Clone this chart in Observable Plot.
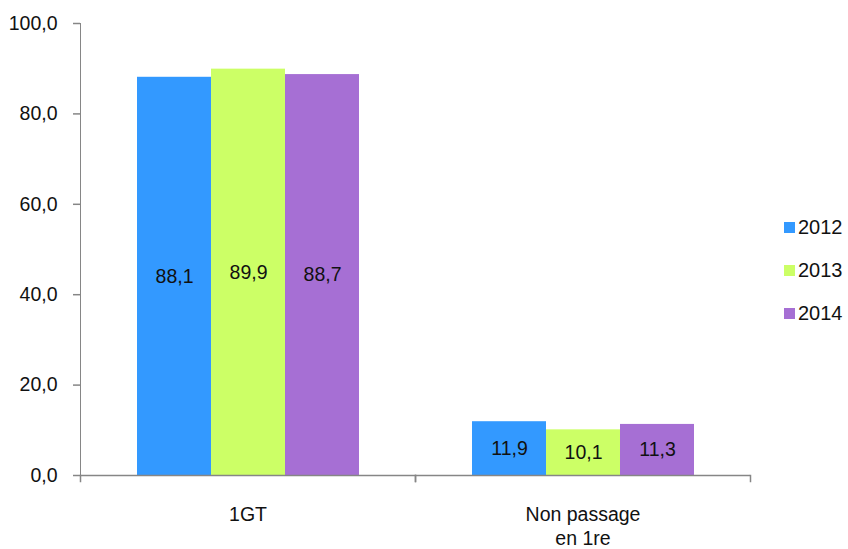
<!DOCTYPE html>
<html>
<head>
<meta charset="utf-8">
<script src="https://cdn.jsdelivr.net/npm/d3@7"></script>
<script src="https://cdn.jsdelivr.net/npm/@observablehq/plot@0.6"></script>
<style>
  html, body { margin: 0; padding: 0; background: #fff; }
  #wrap { position: relative; width: 848px; height: 549px; }
  #wrap svg text { font-family: "Liberation Sans Narrow", "Arial Narrow", "Liberation Sans", Arial, sans-serif; }
  #legend { position: absolute; left: 784px; top: 213px; font-family: "Liberation Sans Narrow", "Arial Narrow", "Liberation Sans", Arial, sans-serif; font-size: 20px; color: #111; }
  #legend .row { display: flex; align-items: center; height: 28px; margin-bottom: 15px; }
  #legend .sw { width: 11px; height: 11px; margin-right: 3px; }
</style>
</head>
<body>
<div id="wrap"></div>
<script>
const categories = ["1GT", "Non passage\nen 1re"];
const years = ["2012", "2013", "2014"];
const colors = ["#3399FF", "#CCFF66", "#A66FD4"];
const values1GT = [88.1, 89.9, 88.7];
const valuesNonPassage = [11.9, 10.1, 11.3];
const yTicks = [0, 20, 40, 60, 80, 100];

const fmt = d => d.toFixed(1).replace(".", ",");

const data = [];
years.forEach((yr, i) => {
  data.push({cat: categories[0], year: yr, value: values1GT[i]});
  data.push({cat: categories[1], year: yr, value: valuesNonPassage[i]});
});

const axisColor = "#868686";
const fs = 19.5;

const chart = Plot.plot({
  width: 848,
  height: 549,
  marginLeft: 80,
  marginRight: 98,
  marginTop: 23,
  marginBottom: 74,
  style: {fontSize: fs + "px", color: "#111", background: "#fff"},
  fx: {domain: categories, padding: 0, axis: null, label: null},
  x: {domain: years, paddingInner: 0, paddingOuter: 0.75, axis: null},
  y: {domain: [0, 100], ticks: yTicks, tickFormat: fmt, tickSize: 7, tickPadding: 16, label: null, line: true},
  color: {domain: years, range: colors},
  marks: [
    Plot.barY(data, {fx: "cat", x: "year", y: "value", fill: "year"}),
    Plot.ruleY([0], {stroke: axisColor, strokeWidth: 1.5}),
    Plot.frame({anchor: "left", stroke: axisColor, strokeWidth: 1.5, insetTop: 452, insetBottom: -6}),
    Plot.frame({anchor: "right", stroke: axisColor, strokeWidth: 1.5, insetTop: 452, insetBottom: -6}),
    Plot.text(data, {fx: "cat", x: "year", y: d => d.value / 2, text: d => fmt(d.value), fill: "#111", fontSize: fs}),
    Plot.text(categories, {fx: d => d, text: d => d, frameAnchor: "bottom", lineAnchor: "top", dy: 29, lineHeight: 1.2, fill: "#111", fontSize: fs})
  ]
});

chart.querySelectorAll("g[aria-label='y-axis tick'] path, g[aria-label='y-axis tick'] line").forEach(e => { e.setAttribute("stroke", axisColor); e.setAttribute("stroke-width", "1.5"); e.setAttribute("stroke-opacity", "1"); });
chart.querySelectorAll("g[aria-label='frame'] line, g[aria-label='y-axis'] line").forEach(e => { e.setAttribute("stroke", axisColor); });

const wrap = document.getElementById("wrap");
wrap.appendChild(chart);

const legend = document.createElement("div");
legend.id = "legend";
years.forEach((yr, i) => {
  const row = document.createElement("div");
  row.className = "row";
  const sw = document.createElement("div");
  sw.className = "sw";
  sw.style.background = colors[i];
  const t = document.createElement("span");
  t.textContent = yr;
  row.appendChild(sw);
  row.appendChild(t);
  legend.appendChild(row);
});
wrap.appendChild(legend);
</script>
</body>
</html>
